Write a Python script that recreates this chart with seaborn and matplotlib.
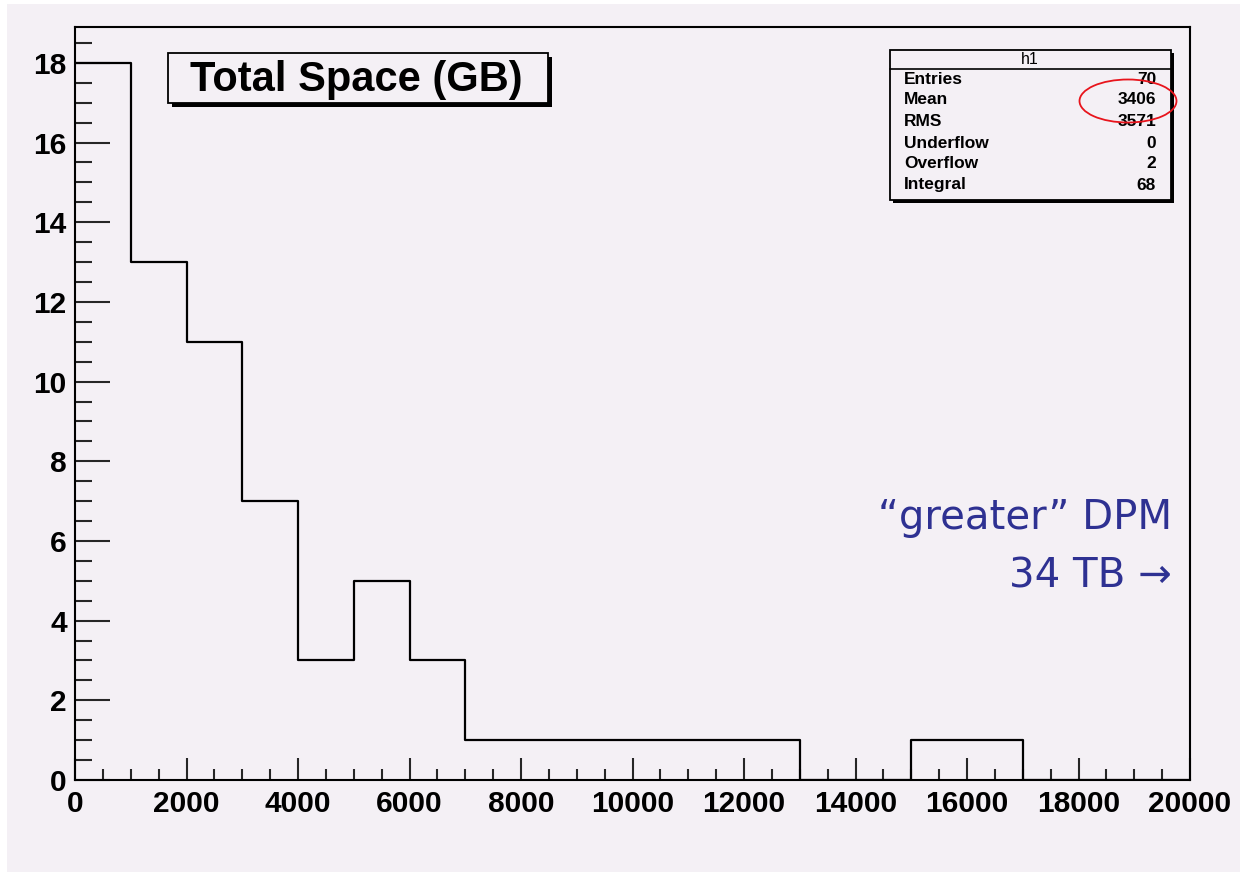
import numpy as np
import pandas as pd
import matplotlib
matplotlib.use("Agg")
import matplotlib.pyplot as plt
import seaborn as sns
from matplotlib.patches import Rectangle, Ellipse
from matplotlib.ticker import MultipleLocator
from matplotlib import font_manager

# ---------------- data ----------------
bin_edges = [0, 1000, 2000, 3000, 4000, 5000, 6000, 7000, 8000, 9000, 10000,
             11000, 12000, 13000, 14000, 15000, 16000, 17000, 18000, 19000, 20000]
counts = [18, 13, 11, 7, 3, 5, 3, 1, 1, 1, 1, 1, 1, 0, 0, 1, 1, 0, 0, 0]
x_ticks = [0, 2000, 4000, 6000, 8000, 10000, 12000, 14000, 16000, 18000, 20000]
y_ticks = [0, 2, 4, 6, 8, 10, 12, 14, 16, 18]
stats_labels = ["Entries", "Mean", "RMS", "Underflow", "Overflow", "Integral"]
stats_values = ["70", "3406", "3571", "0", "2", "68"]
stats_name = "h1"
title_text = "Total Space (GB)"
note_lines = ["\u201cgreater\u201d DPM", "34 TB \u2192"]

centers = [(a + b) / 2 for a, b in zip(bin_edges[:-1], bin_edges[1:])]
df = pd.DataFrame({"space": centers, "count": counts})

# ---------------- style ----------------
sns.set_theme(style="ticks")
BG = "#F4F0F5"
W, H = 1240, 872


def has_font(name):
    try:
        font_manager.findfont(font_manager.FontProperties(family=name),
                              fallback_to_default=False)
        return True
    except Exception:
        return False


narrow = has_font("Liberation Sans Narrow")
tick_family = ["Liberation Sans Narrow"] if narrow else ["Liberation Sans"]
tick_size = 25 if narrow else 21.5
plt.rcParams["font.family"] = ["Liberation Sans", "DejaVu Sans"]


def fx(px):
    return px / W


def fy(py):
    return 1 - py / H


fig = plt.figure(figsize=(W / 100, H / 100), dpi=100, facecolor="white")
fig.patches.append(Rectangle((fx(7), 0), 1, fy(4), transform=fig.transFigure,
                             facecolor=BG, edgecolor="none", zorder=-10))

ax = fig.add_axes([fx(75), fy(780), fx(1190) - fx(75), fy(27) - fy(780)])
ax.set_facecolor(BG)

sns.histplot(data=df, x="space", weights="count", bins=bin_edges,
             element="step", fill=False, color="black", linewidth=1.6, ax=ax)

ax.set_xlim(0, 20000)
ax.set_ylim(0, 18.9)
ax.set_xlabel("")
ax.set_ylabel("")
ax.set_xticks(x_ticks)
ax.set_yticks(y_ticks)
ax.xaxis.set_minor_locator(MultipleLocator(500))
ax.yaxis.set_minor_locator(MultipleLocator(0.5))
ax.set_xticklabels([str(v) for v in x_ticks])
ax.set_yticklabels([str(v) for v in y_ticks])
for sp in ax.spines.values():
    sp.set_visible(True)
    sp.set_linewidth(1.5)
    sp.set_color("black")
ax.tick_params(axis="y", which="major", direction="in", length=25, width=1.5, pad=6)
ax.tick_params(axis="y", which="minor", direction="in", length=12.5, width=1.5)
ax.tick_params(axis="x", which="major", direction="in", length=16, width=1.5, pad=7)
ax.tick_params(axis="x", which="minor", direction="in", length=8, width=1.5)
for lab in ax.get_xticklabels() + ax.get_yticklabels():
    lab.set_family(tick_family)
    lab.set_fontweight("bold")
    lab.set_fontsize(tick_size)
    lab.set_color("black")


def shadow_box(x0, y0, x1, y1, off=4):
    fig.patches.append(Rectangle((fx(x0 + off), fy(y1 + off)), fx(x1 - x0), fy(y0) - fy(y1),
                                 transform=fig.transFigure, facecolor="black",
                                 edgecolor="none", zorder=5))
    fig.patches.append(Rectangle((fx(x0), fy(y1)), fx(x1 - x0), fy(y0) - fy(y1),
                                 transform=fig.transFigure, facecolor=BG,
                                 edgecolor="black", linewidth=1.3, zorder=6))


# title box
shadow_box(168, 53, 548, 103, off=4)
fig.text(fx(356), fy(80), title_text, ha="center", va="center", fontsize=30,
         fontweight="bold", color="black", zorder=7)

# stats box
shadow_box(890, 50, 1171, 200, off=3)
fig.lines.append(plt.Line2D([fx(890), fx(1171)], [fy(69), fy(69)],
                            transform=fig.transFigure, color="black", linewidth=1.2, zorder=7))
fig.text(fx(1030), fy(59), stats_name, ha="center", va="center", fontsize=11.5,
         color="black", zorder=7)
row_y = [80, 100, 121, 143, 164, 185]
for lab, val, ry in zip(stats_labels, stats_values, row_y):
    fig.text(fx(904), fy(ry), lab, ha="left", va="center", fontsize=12.5,
             fontweight="bold", color="black", zorder=7)
    fig.text(fx(1156), fy(ry), val, ha="right", va="center", fontsize=12.5,
             fontweight="bold", color="black", zorder=7)

# red ellipse
fig.patches.append(Ellipse((fx(1128), fy(101)), fx(97), 43 / H, transform=fig.transFigure,
                           facecolor="none", edgecolor="#E8141C", linewidth=1.3, zorder=8))

# blue note
blue = "#2E3192"
fig.text(fx(1172), fy(529), note_lines[0], ha="right", va="baseline", fontsize=29,
         color=blue, family=["DejaVu Sans"], zorder=7)
fig.text(fx(1172), fy(587), note_lines[1], ha="right", va="baseline", fontsize=29,
         color=blue, family=["DejaVu Sans"], zorder=7)

fig.savefig("out.png", dpi=100, facecolor=fig.get_facecolor())
